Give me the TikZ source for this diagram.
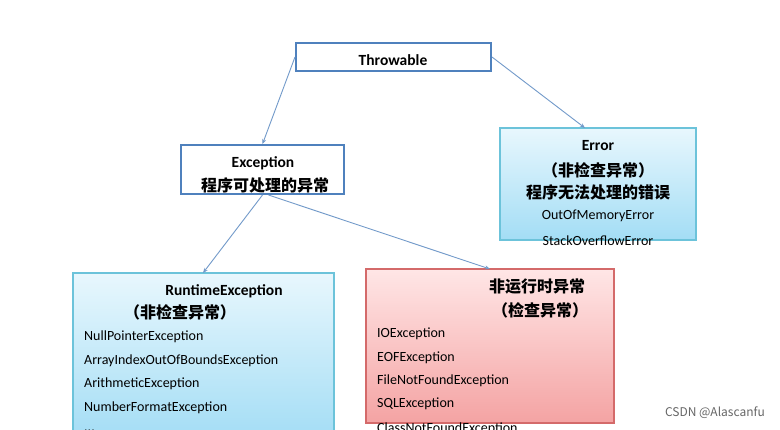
\documentclass[tikz,border=0pt]{standalone}
\usepackage{fontspec}
\setmainfont{Carlito}
\newfontfamily\cjk{Noto Sans CJK SC}
\usetikzlibrary{arrows.meta}
\definecolor{bord}{HTML}{4F81BD}
\definecolor{cyb}{HTML}{6CC3DA}
\definecolor{redb}{HTML}{D46A6A}
\definecolor{cytop}{HTML}{E8F7FD}
\definecolor{cybot}{HTML}{A3DDF5}
\definecolor{rdtop}{HTML}{FFE6E6}
\definecolor{rdbot}{HTML}{F4A3A3}
\begin{document}
\begin{tikzpicture}[x=1pt,y=-1pt,
  wbox/.style={draw=bord,line width=2pt,fill=white},
  arr/.style={draw=bord!80,line width=0.9pt,-{Stealth[length=5pt,width=4pt]}},
  lt/.style={font=\fontsize{14}{16}\selectfont,inner sep=0pt,anchor=west},
  ttl/.style={font=\fontsize{15.5}{17}\selectfont\bfseries,inner sep=0pt},
  zh/.style={font=\fontsize{16}{18}\selectfont\cjk\bfseries,inner sep=0pt}]
\useasboundingbox (0,0) rectangle (780,429);
\clip (0,0) rectangle (780,429);
\fill[white] (0,0) rectangle (780,429);
% boxes
\node[wbox,minimum width=195pt,minimum height=28pt,inner sep=0pt] (thr) at (393.5,57) {};
\node[wbox,minimum width=163pt,minimum height=49pt,inner sep=0pt] (exc) at (262.5,169.5) {};
\shade[top color=cytop,bottom color=cybot] (500,128) rectangle (696,240);
\draw[cyb,line width=1.2pt] (500,128) rectangle (696,240);
\coordinate (errtop) at (585,128);
\shade[top color=cytop,bottom color=cybot] (73,273) rectangle (334,440);
\draw[cyb,line width=1.2pt] (73,273) rectangle (334,440);
\coordinate (rtop) at (203,273);
\shade[top color=rdtop,bottom color=rdbot] (366,269) rectangle (614,423);
\draw[redb,line width=1.2pt] (366,269) rectangle (614,423);
\coordinate (ntop) at (490,269);
% texts
\node[ttl] (t1) at (393,60) {Throwable};
\node[ttl] (t2) at (263,163) {Exception};
\node[zh] (t3) at (265,185) {程序可处理的异常};
\node[ttl] (e1) at (598,146) {Error};
\node[zh] (e2) at (598,170) {（非检查异常）};
\node[zh] (e3) at (598,192) {程序无法处理的错误};
\node[lt,anchor=center] (e4) at (598,216) {OutOfMemoryError};
\node[lt,anchor=center] (e5) at (598,241) {StackOverflowError};
\node[ttl] (r1) at (224,291) {RuntimeException};
\node[zh] (r2) at (180,312) {（非检查异常）};
\node[lt] (r3) at (84,337) {NullPointerException};
\node[lt] (r4) at (84,361) {ArrayIndexOutOfBoundsException};
\node[lt] (r5) at (84,384) {ArithmeticException};
\node[lt] (r6) at (84,408) {NumberFormatException};
\node[lt] (r7) at (84,431) {...};
\node[zh] (n1) at (537,287) {非运行时异常};
\node[zh] (n2) at (540,310) {（检查异常）};
\node[lt] (n3) at (377,334) {IOException};
\node[lt] (n4) at (377,358) {EOFException};
\node[lt] (n5) at (377,381) {FileNotFoundException};
\node[lt] (n6) at (377,404) {SQLException};
\node[lt] (n7) at (377,429) {ClassNotFoundException};
\node[font=\fontsize{12}{14}\selectfont\cjk,text=gray!80!black,anchor=east,inner sep=0pt] (wm) at (765,413) {CSDN @Alascanfu};
% arrows
\draw[arr] (thr.west) -- (exc.north);
\draw[arr] (thr.east) -- (errtop);
\draw[arr] (exc.south) -- (rtop);
\draw[arr] ([xshift=6pt]exc.south) -- (ntop);
\end{tikzpicture}
\end{document}
